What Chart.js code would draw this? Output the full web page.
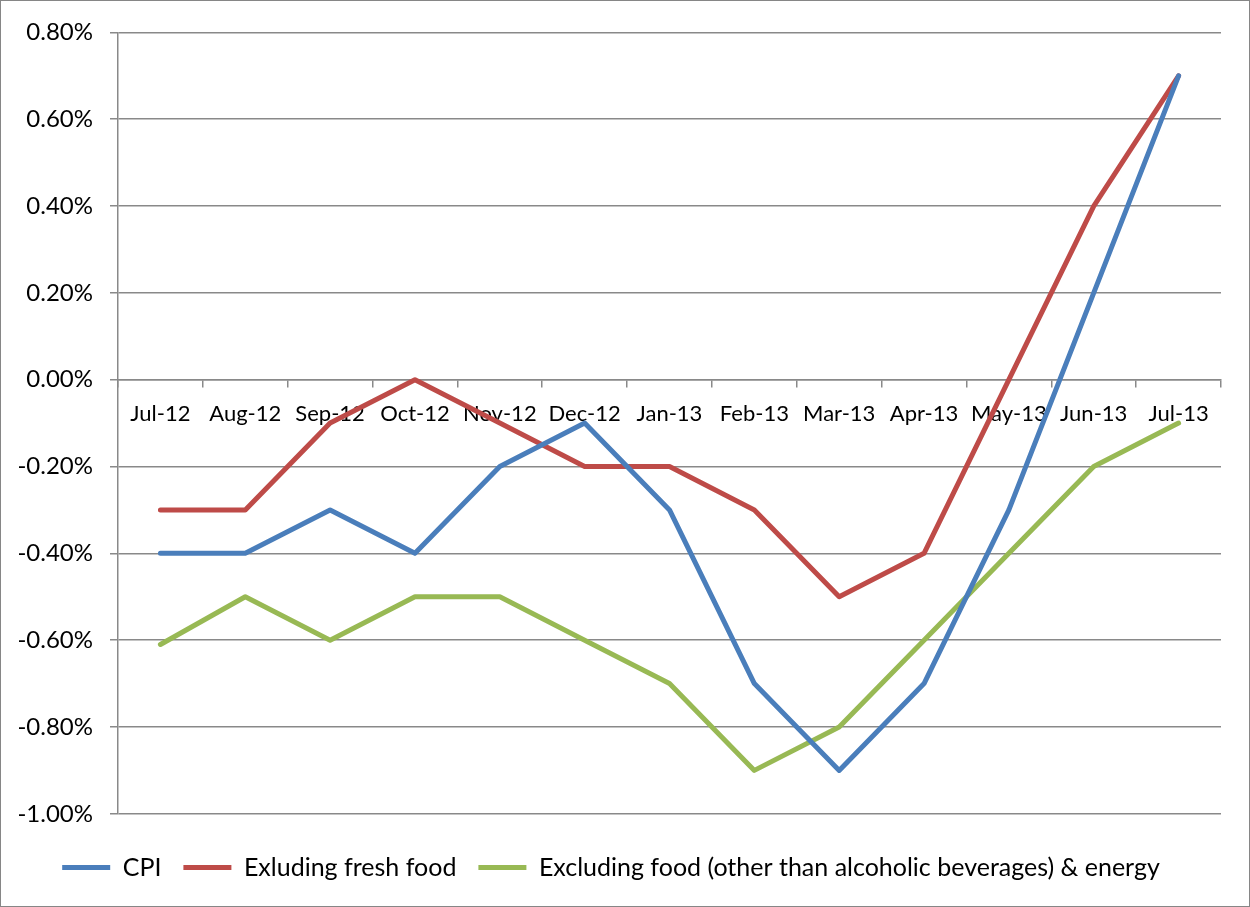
<!DOCTYPE html>
<html>
<head>
<meta charset="utf-8">
<script src="https://cdn.jsdelivr.net/npm/chart.js@4.4.1/dist/chart.umd.min.js"></script>
<style>
  html, body { margin: 0; padding: 0; background: #fff; }
  #wrap { width: 1248px; height: 905px; border: 1px solid #868686; position: relative; }
</style>
</head>
<body>
<div id="wrap"><canvas id="chart" width="1248" height="905"></canvas></div>
<script>
const months = ["Jul-12", "Aug-12", "Sep-12", "Oct-12", "Nov-12", "Dec-12", "Jan-13",
                "Feb-13", "Mar-13", "Apr-13", "May-13", "Jun-13", "Jul-13"]

const cpi = [-0.4, -0.4, -0.3, -0.4, -0.2, -0.1, -0.3, -0.7, -0.9, -0.7, -0.3, 0.2, 0.7]
const exFresh = [-0.3, -0.3, -0.1, 0.0, -0.1, -0.2, -0.2, -0.3, -0.5, -0.4, 0.0, 0.4, 0.7]
const exFoodEnergy = [-0.61, -0.5, -0.6, -0.5, -0.5, -0.6, -0.7, -0.9, -0.8, -0.6, -0.4, -0.2, -0.1]

const seriesNames = ["CPI", "Exluding fresh food", "Excluding food (other than alcoholic beverages) & energy"]

const FONT = "Lato"
const GRID = "#898989"

function line(label, data, color) {
    return {
        label: label,
        data: data,
        borderColor: color,
        backgroundColor: color,
        borderWidth: 5,
        borderCapStyle: "round",
        borderJoinStyle: "round",
        pointRadius: 0,
        pointHoverRadius: 0,
        pointStyle: "line",
        tension: 0
    }
}

const ctx = document.getElementById("chart").getContext("2d")

new Chart(ctx, {
    type: "line",
    data: {
        labels: months,
        datasets: [
            line(seriesNames[0], cpi, "#4A7EBB"),
            line(seriesNames[1], exFresh, "#BE4B48"),
            line(seriesNames[2], exFoodEnergy, "#98B954")
        ]
    },
    options: {
        responsive: false,
        animation: false,
        events: [],
        layout: {
            padding: { top: 30, right: 28, left: 0, bottom: 16 }
        },
        plugins: {
            tooltip: { enabled: false },
            legend: {
                position: "bottom",
                // empty title only used as a spacer above the legend row
                title: { display: true, text: "", font: { size: 1 }, padding: { top: 18, bottom: 0 } },
                labels: {
                    usePointStyle: true,
                    pointStyleWidth: 48,
                    padding: 22,
                    color: "#000",
                    font: { family: FONT, size: 25 }
                }
            }
        },
        scales: {
            x: {
                position: { y: 0 },
                offset: true,
                grid: {
                    offset: true,
                    drawOnChartArea: false,
                    drawTicks: true,
                    tickLength: 7,
                    color: GRID,
                    lineWidth: 1.5
                },
                border: { color: GRID, width: 1.5 },
                ticks: {
                    color: "#000",
                    padding: 14,
                    maxRotation: 0,
                    autoSkip: false,
                    font: { family: FONT, size: 22 }
                }
            },
            y: {
                min: -1.0,
                max: 0.8,
                afterFit: (scale) => { scale.width = 117 },
                grid: {
                    color: GRID,
                    lineWidth: 1.5,
                    tickLength: 8
                },
                border: { color: GRID, width: 1.5 },
                ticks: {
                    stepSize: 0.2,
                    padding: 17,
                    color: "#000",
                    font: { family: FONT, size: 24 },
                    callback: (v) => v.toFixed(2) + "%"
                }
            }
        }
    }
})
</script>
</body>
</html>
